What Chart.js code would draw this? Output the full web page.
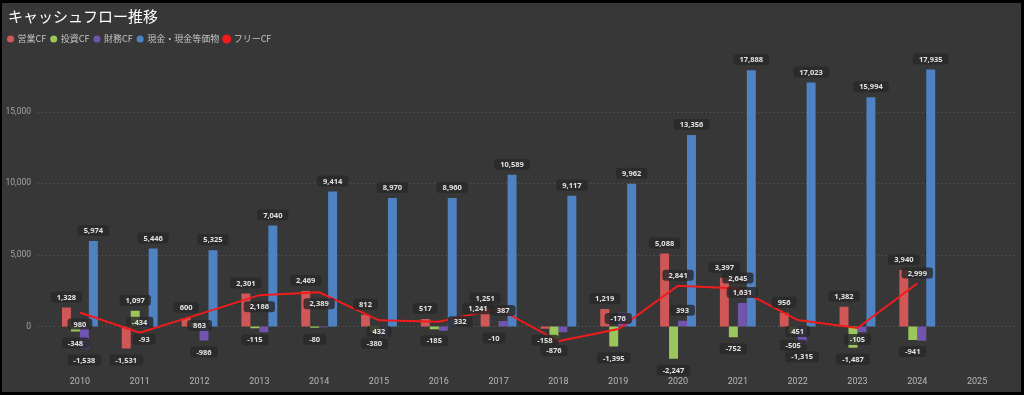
<!DOCTYPE html>
<html>
<head>
<meta charset="utf-8">
<style>
  html, body { margin: 0; padding: 0; background: #000; }
  #frame { position: absolute; left: 2px; top: 3px; width: 1019px; height: 389px; background: #373737; overflow: hidden; }
  #chartBox { position: absolute; left: 0; top: 0; width: 1019px; height: 391px; }
</style>
</head>
<body>
<div id="frame"><div id="chartBox"><canvas id="cfChart"></canvas></div></div>

<script src="https://cdn.jsdelivr.net/npm/chart.js"></script>
<script>
  // 年度
  const years = ['2010', '2011', '2012', '2013', '2014', '2015', '2016', '2017',
                 '2018', '2019', '2020', '2021', '2022', '2023', '2024', '2025'];

  // 単位：百万円
  const operatingCF = [1328, -1531, 600, 2301, 2469, 812, 517, 1251, -158, 1219, 5088, 3397, 956, 1382, 3940, null];
  const investingCF = [-348, 1097, 263, -115, -80, -380, -185, -10, -876, -1395, -2247, -752, -505, -1487, -941, null];
  const financingCF = [-1538, -93, -986, -400, -50, -760, -300, 387, -400, 950, 393, 1631, -1315, -400, -1000, null];
  const cashBalance = [5974, 5446, 5325, 7040, 9414, 8970, 8960, 10589, 9117, 9962, 13356, 17888, 17023, 15994, 17935, null];
  const freeCF = [980, -434, 863, 2186, 2389, 432, 332, 1241, -1034, -176, 2841, 2645, 451, -105, 2999, null];

  const yTicks = [0, 5000, 10000, 15000];

  // ラベル表示の調整（元グラフで表示されていないもの・位置）
  const hiddenLabels = { 1: ['2012'], 2: ['2013', '2014', '2015', '2016', '2018', '2019', '2023', '2024'] };
  const freeLabelPos = ['below', 'above', 'below', 'below', 'below', 'below', 'right', 'left',
                        'none', 'above', 'above', 'above', 'below', 'below', 'above'];

  const fmt = v => v.toLocaleString('en-US');

  // 点線のグリッド（左右に少しはみ出す）
  const dottedGrid = {
    id: 'dottedGrid',
    beforeDatasetsDraw(chart) {
      const ctx = chart.ctx;
      const y = chart.scales.y;
      ctx.save();
      ctx.strokeStyle = '#5e5e5e';
      ctx.lineWidth = 1;
      ctx.setLineDash([1, 3]);
      yTicks.forEach(t => {
        const py = Math.round(y.getPixelForValue(t)) + 0.5;
        ctx.beginPath();
        ctx.moveTo(36, py);
        ctx.lineTo(1016, py);
        ctx.stroke();
      });
      ctx.restore();
    }
  };

  // データラベル
  const valueLabels = {
    id: 'valueLabels',
    afterDatasetsDraw(chart) {
      const ctx = chart.ctx;
      ctx.save();
      ctx.font = 'bold 7.5px "Noto Sans"';
      ctx.textAlign = 'center';
      ctx.textBaseline = 'middle';
      chart.data.datasets.forEach((ds, di) => {
        const meta = chart.getDatasetMeta(di);
        meta.data.forEach((el, i) => {
          const v = ds.data[i];
          if (v === null || v === undefined) return;
          const text = fmt(v);
          const w = ctx.measureText(text).width + 12;
          const h = 11;
          let cx = el.x, cy;
          if (ds.type === 'line') {
            const p = freeLabelPos[i];
            if (p === 'none') return;
            if (p === 'above') cy = el.y - 5 - h / 2;
            else if (p === 'below') cy = el.y + 6 + h / 2;
            else if (p === 'right') { cx = el.x + 9 + w / 2; cy = el.y; }
            else { cx = el.x - 5 - w / 2; cy = el.y; }
          } else {
            if ((hiddenLabels[di] || []).includes(years[i])) return;
            cy = v >= 0 ? el.y - 5 - h / 2 : el.y + 6 + h / 2;
          }
          ctx.fillStyle = 'rgba(40, 40, 40, 0.82)';
          ctx.beginPath();
          ctx.roundRect(cx - w / 2, cy - h / 2, w, h, 3);
          ctx.fill();
          ctx.fillStyle = '#e2e2e2';
          ctx.fillText(text, cx, cy + 0.5);
        });
      });
      ctx.restore();
    }
  };

  // タイトルと凡例の左位置を調整
  const headerShift = {
    id: 'headerShift',
    afterLayout(chart) {
      chart.titleBlock.left += 6;
      chart.titleBlock.right += 6;
      chart.legend.left += 1;
      chart.legend.right += 1;
    }
  };

  const ctx = document.getElementById('cfChart').getContext('2d');
  new Chart(ctx, {
    type: 'bar',
    data: {
      labels: years,
      datasets: [
        { label: '営業CF', data: operatingCF, backgroundColor: '#cf5757', borderWidth: 0 },
        { label: '投資CF', data: investingCF, backgroundColor: '#9cc65c', borderWidth: 0 },
        { label: '財務CF', data: financingCF, backgroundColor: '#7154ae', borderWidth: 0 },
        { label: '現金・現金等価物', data: cashBalance, backgroundColor: '#4e82c3', borderWidth: 0 },
        {
          type: 'line', label: 'フリーCF', data: freeCF, order: -1,
          borderColor: '#f21b1b', backgroundColor: '#f21b1b', borderWidth: 2,
          pointRadius: 0, tension: 0, spanGaps: false
        }
      ]
    },
    options: {
      responsive: true,
      maintainAspectRatio: false,
      animation: false,
      layout: { padding: { left: 0, right: 14, top: 0, bottom: 0 } },
      datasets: { bar: { categoryPercentage: 0.6, barPercentage: 1 } },
      plugins: {
        title: {
          display: true,
          text: 'キャッシュフロー推移',
          align: 'start',
          color: '#ffffff',
          font: { family: '"Noto Sans CJK JP", "Noto Sans"', size: 15, weight: 'normal' },
          padding: { top: 4.5, bottom: 4 }
        },
        legend: {
          display: true,
          position: 'top',
          align: 'start',
          labels: {
            usePointStyle: true,
            pointStyle: 'circle',
            boxWidth: 5,
            boxHeight: 5,
            padding: 5,
            color: '#c4c4c4',
            font: { family: '"Noto Sans CJK JP", "Noto Sans"', size: 9 },
            sort: (a, b) => a.datasetIndex - b.datasetIndex
          }
        },
        tooltip: { enabled: false }
      },
      scales: {
        x: {
          grid: { display: false, drawTicks: false },
          border: { display: false },
          ticks: { color: '#b8b8b8', padding: 6, font: { family: 'Roboto', size: 9 } }
        },
        y: {
          min: -3030,
          max: 19050,
          grid: { display: false, drawTicks: false },
          border: { display: false },
          afterBuildTicks: scale => { scale.ticks = yTicks.map(v => ({ value: v })); },
          afterFit: scale => { scale.width = 48; },
          ticks: {
            color: '#a4a4a4',
            padding: 19,
            font: { family: 'Roboto', size: 8.5 },
            callback: v => fmt(v)
          }
        }
      }
    },
    plugins: [dottedGrid, valueLabels, headerShift]
  });
</script>
</body>
</html>
